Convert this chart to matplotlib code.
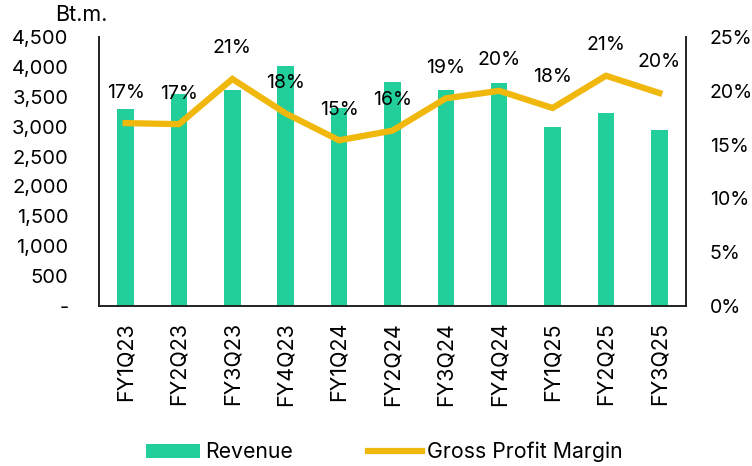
import numpy as np
import matplotlib.pyplot as plt
from matplotlib.ticker import FuncFormatter

plt.rcParams["font.family"] = ["Inter", "DejaVu Sans"]

quarters = ["FY1Q23", "FY2Q23", "FY3Q23", "FY4Q23", "FY1Q24", "FY2Q24",
            "FY3Q24", "FY4Q24", "FY1Q25", "FY2Q25", "FY3Q25"]
revenue = [3290, 3545, 3610, 4015, 3305, 3745, 3615, 3725, 2995, 3230, 2945]
margin = [17.0, 16.9, 21.1, 17.9, 15.4, 16.3, 19.3, 20.0, 18.4, 21.4, 19.8]

bar_color = "#22CE99"
line_color = "#F0B80C"


def main():
    fig = plt.figure(figsize=(7.52, 4.66), dpi=100)
    ax = fig.add_axes([0.1316, 0.3433, 0.7806, 0.5773])
    ax2 = ax.twinx()

    x = np.arange(len(quarters))
    ax.bar(x, revenue, width=0.31, color=bar_color, label="Revenue", zorder=2)
    ax2.plot(x, margin, color=line_color, lw=4.5, solid_joinstyle="miter",
             label="Gross Profit Margin", zorder=3)

    for xi, m in zip(x, margin):
        ax2.annotate("{:.0f}%".format(m), (xi, m), xytext=(0, 22),
                     textcoords="offset points", ha="center", va="center",
                     fontsize=14)

    ax.set_xlim(-0.5, len(quarters) - 0.5)
    ax.set_ylim(0, 4500)
    ax2.set_ylim(0, 25)
    ax.set_yticks(np.arange(0, 4501, 500))
    ax2.set_yticks(np.arange(0, 26, 5))
    ax.yaxis.set_major_formatter(FuncFormatter(lambda v, p: "-" if v == 0 else "{:,.0f}".format(v)))
    ax2.yaxis.set_major_formatter(FuncFormatter(lambda v, p: "{:.0f}%".format(v)))

    ax.set_xticks(x)
    ax.set_xticklabels(quarters, rotation=90, fontsize=15.5)
    ax.tick_params(axis="x", length=0, pad=11.5)
    ax.tick_params(axis="y", length=0, pad=22, labelsize=14.5)
    ax2.tick_params(axis="y", length=0, pad=17, labelsize=14)

    for a in (ax, ax2):
        a.spines["top"].set_visible(False)
        for s in ("left", "bottom", "right"):
            a.spines[s].set_color("#222222")
            a.spines[s].set_linewidth(1.2)

    fig.text(0.073, 0.967, "Bt.m.", fontsize=15.5, va="center", ha="left")

    h1, l1 = ax.get_legend_handles_labels()
    h2, l2 = ax2.get_legend_handles_labels()
    fig.legend(h1 + h2, l1 + l2, loc="center", bbox_to_anchor=(0.511, 0.03),
               ncol=2, frameon=False, handlelength=2.55, handleheight=0.66,
               columnspacing=3.5, handletextpad=0.25, fontsize=15.3)

    fig.savefig("out.png", dpi=100)


if __name__ == "__main__":
    main()
